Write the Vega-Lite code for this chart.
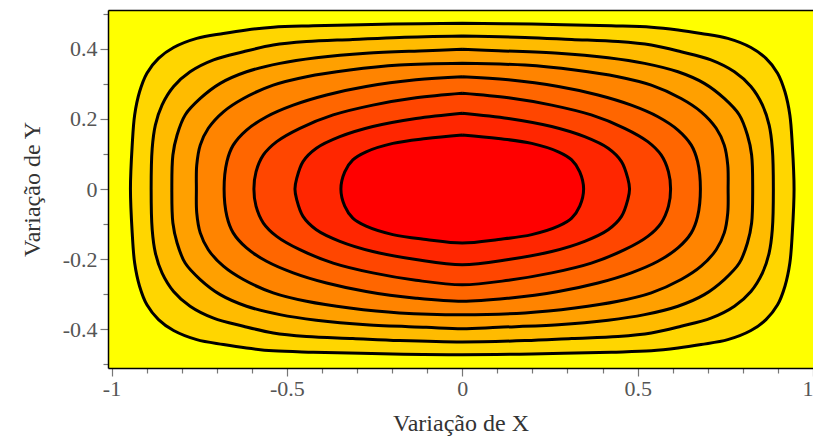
{
"$schema": "https://vega.github.io/schema/vega-lite/v6.json",
"width": 705, "height": 358,
"autosize": {"type": "none"},
"padding": {"left": 108, "top": 10, "right": 0, "bottom": 75},
"background": "white",
"config": {"view": {"fill": "#FFFF00", "stroke": null}, "axis": {"grid": false}},
"data": {"values": [
{"c":1,"i":0,"x":0,"y":0.472},{"c":1,"i":1,"x":-0.198,"y":0.47},{"c":1,"i":2,"x":-0.425,"y":0.465},{"c":1,"i":3,"x":-0.539,"y":0.461},{"c":1,"i":4,"x":-0.615,"y":0.453},{"c":1,"i":5,"x":-0.681,"y":0.443},{"c":1,"i":6,"x":-0.757,"y":0.429},{"c":1,"i":7,"x":-0.823,"y":0.403},{"c":1,"i":8,"x":-0.866,"y":0.372},{"c":1,"i":9,"x":-0.899,"y":0.33},{"c":1,"i":10,"x":-0.92,"y":0.277},{"c":1,"i":11,"x":-0.934,"y":0.211},{"c":1,"i":12,"x":-0.941,"y":0.125},{"c":1,"i":13,"x":-0.946,"y":0},
{"c":1,"i":14,"x":-0.941,"y":-0.125},{"c":1,"i":15,"x":-0.934,"y":-0.211},{"c":1,"i":16,"x":-0.92,"y":-0.277},{"c":1,"i":17,"x":-0.899,"y":-0.33},{"c":1,"i":18,"x":-0.866,"y":-0.372},{"c":1,"i":19,"x":-0.823,"y":-0.403},{"c":1,"i":20,"x":-0.757,"y":-0.429},{"c":1,"i":21,"x":-0.681,"y":-0.443},{"c":1,"i":22,"x":-0.615,"y":-0.453},{"c":1,"i":23,"x":-0.539,"y":-0.461},{"c":1,"i":24,"x":-0.425,"y":-0.465},{"c":1,"i":25,"x":-0.198,"y":-0.47},{"c":1,"i":26,"x":0,"y":-0.472},
{"c":1,"i":27,"x":0.198,"y":-0.47},{"c":1,"i":28,"x":0.425,"y":-0.465},{"c":1,"i":29,"x":0.539,"y":-0.461},{"c":1,"i":30,"x":0.615,"y":-0.453},{"c":1,"i":31,"x":0.681,"y":-0.443},{"c":1,"i":32,"x":0.757,"y":-0.429},{"c":1,"i":33,"x":0.823,"y":-0.403},{"c":1,"i":34,"x":0.866,"y":-0.372},{"c":1,"i":35,"x":0.899,"y":-0.33},{"c":1,"i":36,"x":0.92,"y":-0.277},{"c":1,"i":37,"x":0.934,"y":-0.211},{"c":1,"i":38,"x":0.941,"y":-0.125},{"c":1,"i":39,"x":0.946,"y":0},
{"c":1,"i":40,"x":0.941,"y":0.125},{"c":1,"i":41,"x":0.934,"y":0.211},{"c":1,"i":42,"x":0.92,"y":0.277},{"c":1,"i":43,"x":0.899,"y":0.33},{"c":1,"i":44,"x":0.866,"y":0.372},{"c":1,"i":45,"x":0.823,"y":0.403},{"c":1,"i":46,"x":0.757,"y":0.429},{"c":1,"i":47,"x":0.681,"y":0.443},{"c":1,"i":48,"x":0.615,"y":0.453},{"c":1,"i":49,"x":0.539,"y":0.461},{"c":1,"i":50,"x":0.425,"y":0.465},{"c":1,"i":51,"x":0.198,"y":0.47},{"c":1,"i":52,"x":0,"y":0.472},

{"c":2,"i":0,"x":0,"y":0.436},{"c":2,"i":1,"x":-0.179,"y":0.432},{"c":2,"i":2,"x":-0.312,"y":0.426},{"c":2,"i":3,"x":-0.444,"y":0.42},{"c":2,"i":4,"x":-0.539,"y":0.41},{"c":2,"i":5,"x":-0.624,"y":0.391},{"c":2,"i":6,"x":-0.709,"y":0.368},{"c":2,"i":7,"x":-0.776,"y":0.334},{"c":2,"i":8,"x":-0.823,"y":0.292},{"c":2,"i":9,"x":-0.856,"y":0.239},{"c":2,"i":10,"x":-0.875,"y":0.182},{"c":2,"i":11,"x":-0.884,"y":0.116},{"c":2,"i":12,"x":-0.887,"y":0},
{"c":2,"i":13,"x":-0.884,"y":-0.116},{"c":2,"i":14,"x":-0.875,"y":-0.182},{"c":2,"i":15,"x":-0.856,"y":-0.239},{"c":2,"i":16,"x":-0.823,"y":-0.292},{"c":2,"i":17,"x":-0.776,"y":-0.334},{"c":2,"i":18,"x":-0.709,"y":-0.368},{"c":2,"i":19,"x":-0.624,"y":-0.391},{"c":2,"i":20,"x":-0.539,"y":-0.41},{"c":2,"i":21,"x":-0.444,"y":-0.42},{"c":2,"i":22,"x":-0.312,"y":-0.426},{"c":2,"i":23,"x":-0.179,"y":-0.432},{"c":2,"i":24,"x":0,"y":-0.436},
{"c":2,"i":25,"x":0.179,"y":-0.432},{"c":2,"i":26,"x":0.312,"y":-0.426},{"c":2,"i":27,"x":0.444,"y":-0.42},{"c":2,"i":28,"x":0.539,"y":-0.41},{"c":2,"i":29,"x":0.624,"y":-0.391},{"c":2,"i":30,"x":0.709,"y":-0.368},{"c":2,"i":31,"x":0.776,"y":-0.334},{"c":2,"i":32,"x":0.823,"y":-0.292},{"c":2,"i":33,"x":0.856,"y":-0.239},{"c":2,"i":34,"x":0.875,"y":-0.182},{"c":2,"i":35,"x":0.884,"y":-0.116},{"c":2,"i":36,"x":0.887,"y":0},
{"c":2,"i":37,"x":0.884,"y":0.116},{"c":2,"i":38,"x":0.875,"y":0.182},{"c":2,"i":39,"x":0.856,"y":0.239},{"c":2,"i":40,"x":0.823,"y":0.292},{"c":2,"i":41,"x":0.776,"y":0.334},{"c":2,"i":42,"x":0.709,"y":0.368},{"c":2,"i":43,"x":0.624,"y":0.391},{"c":2,"i":44,"x":0.539,"y":0.41},{"c":2,"i":45,"x":0.444,"y":0.42},{"c":2,"i":46,"x":0.312,"y":0.426},{"c":2,"i":47,"x":0.179,"y":0.432},{"c":2,"i":48,"x":0,"y":0.436},

{"c":3,"i":0,"x":0,"y":0.398},{"c":3,"i":1,"x":-0.103,"y":0.394},{"c":3,"i":2,"x":-0.274,"y":0.387},{"c":3,"i":3,"x":-0.416,"y":0.374},{"c":3,"i":4,"x":-0.52,"y":0.358},{"c":3,"i":5,"x":-0.615,"y":0.334},{"c":3,"i":6,"x":-0.69,"y":0.301},{"c":3,"i":7,"x":-0.747,"y":0.258},{"c":3,"i":8,"x":-0.79,"y":0.211},{"c":3,"i":9,"x":-0.813,"y":0.154},{"c":3,"i":10,"x":-0.825,"y":0.097},{"c":3,"i":11,"x":-0.828,"y":0},
{"c":3,"i":12,"x":-0.825,"y":-0.097},{"c":3,"i":13,"x":-0.813,"y":-0.154},{"c":3,"i":14,"x":-0.79,"y":-0.211},{"c":3,"i":15,"x":-0.747,"y":-0.258},{"c":3,"i":16,"x":-0.69,"y":-0.301},{"c":3,"i":17,"x":-0.615,"y":-0.334},{"c":3,"i":18,"x":-0.52,"y":-0.358},{"c":3,"i":19,"x":-0.416,"y":-0.374},{"c":3,"i":20,"x":-0.274,"y":-0.387},{"c":3,"i":21,"x":-0.103,"y":-0.394},{"c":3,"i":22,"x":0,"y":-0.398},
{"c":3,"i":23,"x":0.103,"y":-0.394},{"c":3,"i":24,"x":0.274,"y":-0.387},{"c":3,"i":25,"x":0.416,"y":-0.374},{"c":3,"i":26,"x":0.52,"y":-0.358},{"c":3,"i":27,"x":0.615,"y":-0.334},{"c":3,"i":28,"x":0.69,"y":-0.301},{"c":3,"i":29,"x":0.747,"y":-0.258},{"c":3,"i":30,"x":0.79,"y":-0.211},{"c":3,"i":31,"x":0.813,"y":-0.154},{"c":3,"i":32,"x":0.825,"y":-0.097},{"c":3,"i":33,"x":0.828,"y":0},
{"c":3,"i":34,"x":0.825,"y":0.097},{"c":3,"i":35,"x":0.813,"y":0.154},{"c":3,"i":36,"x":0.79,"y":0.211},{"c":3,"i":37,"x":0.747,"y":0.258},{"c":3,"i":38,"x":0.69,"y":0.301},{"c":3,"i":39,"x":0.615,"y":0.334},{"c":3,"i":40,"x":0.52,"y":0.358},{"c":3,"i":41,"x":0.416,"y":0.374},{"c":3,"i":42,"x":0.274,"y":0.387},{"c":3,"i":43,"x":0.103,"y":0.394},{"c":3,"i":44,"x":0,"y":0.398},

{"c":4,"i":0,"x":0,"y":0.358},{"c":4,"i":1,"x":-0.179,"y":0.353},{"c":4,"i":2,"x":-0.321,"y":0.339},{"c":4,"i":3,"x":-0.444,"y":0.32},{"c":4,"i":4,"x":-0.539,"y":0.296},{"c":4,"i":5,"x":-0.624,"y":0.258},{"c":4,"i":6,"x":-0.681,"y":0.22},{"c":4,"i":7,"x":-0.724,"y":0.173},{"c":4,"i":8,"x":-0.747,"y":0.125},{"c":4,"i":9,"x":-0.757,"y":0.068},{"c":4,"i":10,"x":-0.758,"y":0},
{"c":4,"i":11,"x":-0.757,"y":-0.068},{"c":4,"i":12,"x":-0.747,"y":-0.125},{"c":4,"i":13,"x":-0.724,"y":-0.173},{"c":4,"i":14,"x":-0.681,"y":-0.22},{"c":4,"i":15,"x":-0.624,"y":-0.258},{"c":4,"i":16,"x":-0.539,"y":-0.296},{"c":4,"i":17,"x":-0.444,"y":-0.32},{"c":4,"i":18,"x":-0.321,"y":-0.339},{"c":4,"i":19,"x":-0.179,"y":-0.353},{"c":4,"i":20,"x":0,"y":-0.358},
{"c":4,"i":21,"x":0.179,"y":-0.353},{"c":4,"i":22,"x":0.321,"y":-0.339},{"c":4,"i":23,"x":0.444,"y":-0.32},{"c":4,"i":24,"x":0.539,"y":-0.296},{"c":4,"i":25,"x":0.624,"y":-0.258},{"c":4,"i":26,"x":0.681,"y":-0.22},{"c":4,"i":27,"x":0.724,"y":-0.173},{"c":4,"i":28,"x":0.747,"y":-0.125},{"c":4,"i":29,"x":0.757,"y":-0.068},{"c":4,"i":30,"x":0.758,"y":0},
{"c":4,"i":31,"x":0.757,"y":0.068},{"c":4,"i":32,"x":0.747,"y":0.125},{"c":4,"i":33,"x":0.724,"y":0.173},{"c":4,"i":34,"x":0.681,"y":0.22},{"c":4,"i":35,"x":0.624,"y":0.258},{"c":4,"i":36,"x":0.539,"y":0.296},{"c":4,"i":37,"x":0.444,"y":0.32},{"c":4,"i":38,"x":0.321,"y":0.339},{"c":4,"i":39,"x":0.179,"y":0.353},{"c":4,"i":40,"x":0,"y":0.358},

{"c":5,"i":0,"x":0,"y":0.32},{"c":5,"i":1,"x":-0.132,"y":0.311},{"c":5,"i":2,"x":-0.274,"y":0.292},{"c":5,"i":3,"x":-0.387,"y":0.268},{"c":5,"i":4,"x":-0.482,"y":0.239},{"c":5,"i":5,"x":-0.558,"y":0.206},{"c":5,"i":6,"x":-0.615,"y":0.168},{"c":5,"i":7,"x":-0.653,"y":0.125},{"c":5,"i":8,"x":-0.671,"y":0.078},{"c":5,"i":9,"x":-0.679,"y":0},
{"c":5,"i":10,"x":-0.671,"y":-0.078},{"c":5,"i":11,"x":-0.653,"y":-0.125},{"c":5,"i":12,"x":-0.615,"y":-0.168},{"c":5,"i":13,"x":-0.558,"y":-0.206},{"c":5,"i":14,"x":-0.482,"y":-0.239},{"c":5,"i":15,"x":-0.387,"y":-0.268},{"c":5,"i":16,"x":-0.274,"y":-0.292},{"c":5,"i":17,"x":-0.132,"y":-0.311},{"c":5,"i":18,"x":0,"y":-0.32},
{"c":5,"i":19,"x":0.132,"y":-0.311},{"c":5,"i":20,"x":0.274,"y":-0.292},{"c":5,"i":21,"x":0.387,"y":-0.268},{"c":5,"i":22,"x":0.482,"y":-0.239},{"c":5,"i":23,"x":0.558,"y":-0.206},{"c":5,"i":24,"x":0.615,"y":-0.168},{"c":5,"i":25,"x":0.653,"y":-0.125},{"c":5,"i":26,"x":0.671,"y":-0.078},{"c":5,"i":27,"x":0.679,"y":0},
{"c":5,"i":28,"x":0.671,"y":0.078},{"c":5,"i":29,"x":0.653,"y":0.125},{"c":5,"i":30,"x":0.615,"y":0.168},{"c":5,"i":31,"x":0.558,"y":0.206},{"c":5,"i":32,"x":0.482,"y":0.239},{"c":5,"i":33,"x":0.387,"y":0.268},{"c":5,"i":34,"x":0.274,"y":0.292},{"c":5,"i":35,"x":0.132,"y":0.311},{"c":5,"i":36,"x":0,"y":0.32},

{"c":6,"i":0,"x":0,"y":0.273},{"c":6,"i":1,"x":-0.132,"y":0.26},{"c":6,"i":2,"x":-0.255,"y":0.239},{"c":6,"i":3,"x":-0.368,"y":0.211},{"c":6,"i":4,"x":-0.463,"y":0.173},{"c":6,"i":5,"x":-0.529,"y":0.135},{"c":6,"i":6,"x":-0.567,"y":0.097},{"c":6,"i":7,"x":-0.588,"y":0.049},{"c":6,"i":8,"x":-0.594,"y":0},
{"c":6,"i":9,"x":-0.588,"y":-0.049},{"c":6,"i":10,"x":-0.567,"y":-0.097},{"c":6,"i":11,"x":-0.529,"y":-0.135},{"c":6,"i":12,"x":-0.463,"y":-0.173},{"c":6,"i":13,"x":-0.368,"y":-0.211},{"c":6,"i":14,"x":-0.255,"y":-0.239},{"c":6,"i":15,"x":-0.132,"y":-0.26},{"c":6,"i":16,"x":0,"y":-0.273},
{"c":6,"i":17,"x":0.132,"y":-0.26},{"c":6,"i":18,"x":0.255,"y":-0.239},{"c":6,"i":19,"x":0.368,"y":-0.211},{"c":6,"i":20,"x":0.463,"y":-0.173},{"c":6,"i":21,"x":0.529,"y":-0.135},{"c":6,"i":22,"x":0.567,"y":-0.097},{"c":6,"i":23,"x":0.588,"y":-0.049},{"c":6,"i":24,"x":0.594,"y":0},
{"c":6,"i":25,"x":0.588,"y":0.049},{"c":6,"i":26,"x":0.567,"y":0.097},{"c":6,"i":27,"x":0.529,"y":0.135},{"c":6,"i":28,"x":0.463,"y":0.173},{"c":6,"i":29,"x":0.368,"y":0.211},{"c":6,"i":30,"x":0.255,"y":0.239},{"c":6,"i":31,"x":0.132,"y":0.26},{"c":6,"i":32,"x":0,"y":0.273},

{"c":7,"i":0,"x":0,"y":0.216},{"c":7,"i":1,"x":-0.132,"y":0.201},{"c":7,"i":2,"x":-0.255,"y":0.178},{"c":7,"i":3,"x":-0.349,"y":0.149},{"c":7,"i":4,"x":-0.416,"y":0.116},{"c":7,"i":5,"x":-0.454,"y":0.078},{"c":7,"i":6,"x":-0.472,"y":0.03},{"c":7,"i":7,"x":-0.477,"y":0},
{"c":7,"i":8,"x":-0.472,"y":-0.03},{"c":7,"i":9,"x":-0.454,"y":-0.078},{"c":7,"i":10,"x":-0.416,"y":-0.116},{"c":7,"i":11,"x":-0.349,"y":-0.149},{"c":7,"i":12,"x":-0.255,"y":-0.178},{"c":7,"i":13,"x":-0.132,"y":-0.201},{"c":7,"i":14,"x":0,"y":-0.216},
{"c":7,"i":15,"x":0.132,"y":-0.201},{"c":7,"i":16,"x":0.255,"y":-0.178},{"c":7,"i":17,"x":0.349,"y":-0.149},{"c":7,"i":18,"x":0.416,"y":-0.116},{"c":7,"i":19,"x":0.454,"y":-0.078},{"c":7,"i":20,"x":0.472,"y":-0.03},{"c":7,"i":21,"x":0.477,"y":0},
{"c":7,"i":22,"x":0.472,"y":0.03},{"c":7,"i":23,"x":0.454,"y":0.078},{"c":7,"i":24,"x":0.416,"y":0.116},{"c":7,"i":25,"x":0.349,"y":0.149},{"c":7,"i":26,"x":0.255,"y":0.178},{"c":7,"i":27,"x":0.132,"y":0.201},{"c":7,"i":28,"x":0,"y":0.216},

{"c":8,"i":0,"x":0,"y":0.154},{"c":8,"i":1,"x":-0.103,"y":0.144},{"c":8,"i":2,"x":-0.198,"y":0.13},{"c":8,"i":3,"x":-0.274,"y":0.106},{"c":8,"i":4,"x":-0.312,"y":0.083},{"c":8,"i":5,"x":-0.335,"y":0.049},{"c":8,"i":6,"x":-0.346,"y":0},
{"c":8,"i":7,"x":-0.335,"y":-0.049},{"c":8,"i":8,"x":-0.312,"y":-0.083},{"c":8,"i":9,"x":-0.274,"y":-0.106},{"c":8,"i":10,"x":-0.198,"y":-0.13},{"c":8,"i":11,"x":-0.103,"y":-0.144},{"c":8,"i":12,"x":0,"y":-0.154},
{"c":8,"i":13,"x":0.103,"y":-0.144},{"c":8,"i":14,"x":0.198,"y":-0.13},{"c":8,"i":15,"x":0.274,"y":-0.106},{"c":8,"i":16,"x":0.312,"y":-0.083},{"c":8,"i":17,"x":0.335,"y":-0.049},{"c":8,"i":18,"x":0.346,"y":0},
{"c":8,"i":19,"x":0.335,"y":0.049},{"c":8,"i":20,"x":0.312,"y":0.083},{"c":8,"i":21,"x":0.274,"y":0.106},{"c":8,"i":22,"x":0.198,"y":0.13},{"c":8,"i":23,"x":0.103,"y":0.144},{"c":8,"i":24,"x":0,"y":0.154}
]},
"layer": [
{
"mark": {"type": "line", "stroke": "black", "strokeWidth": 3, "interpolate": "catmull-rom", "clip": true},
"encoding": {
"x": {"field": "x", "type": "quantitative", "scale": {"domain": [-1.01, 1.0], "nice": false, "zero": false},
"axis": {"values": [-1,-0.9,-0.8,-0.7,-0.6,-0.5,-0.4,-0.3,-0.2,-0.1,0,0.1,0.2,0.3,0.4,0.5,0.6,0.7,0.8,0.9,1],
"format": "~g",
"labelExpr": "abs(datum.value*2 - round(datum.value*2)) < 0.001 ? replace(datum.label, '\u2212', '-') : ''",
"tickSize": {"condition": {"test": "abs(datum.value*2 - round(datum.value*2)) < 0.001", "value": 8}, "value": 5},
"tickColor": "#777", "tickWidth": 1.2, "domainColor": "black", "domainWidth": 1.5,
"labelFont": "Liberation Serif", "labelFontSize": 22, "labelColor": "#555", "labelPadding": 2, "labelOverlap": false, "labelFlush": 1,
"title": "Variação de X", "titleFont": "Liberation Serif", "titleFontSize": 24, "titleFontWeight": "normal", "titleColor": "#333", "titlePadding": 12}},
"y": {"field": "y", "type": "quantitative", "scale": {"domain": [-0.51, 0.51], "nice": false, "zero": false},
"axis": {"values": [-0.5,-0.4,-0.3,-0.2,-0.1,0,0.1,0.2,0.3,0.4,0.5],
"format": "~g",
"labelExpr": "abs(datum.value*5 - round(datum.value*5)) < 0.001 ? replace(datum.label, '\u2212', '-') : ''",
"tickSize": {"condition": {"test": "abs(datum.value*5 - round(datum.value*5)) < 0.001", "value": 8}, "value": 5},
"tickColor": "#777", "tickWidth": 1.2, "domainColor": "black", "domainWidth": 1.5,
"labelFont": "Liberation Serif", "labelFontSize": 22, "labelColor": "#555", "labelPadding": 3, "labelOverlap": false,
"title": "Variação de Y", "titleFont": "Liberation Serif", "titleFontSize": 24, "titleFontWeight": "normal", "titleColor": "#333", "titlePadding": 18}},
"order": {"field": "i", "type": "quantitative"},
"detail": {"field": "c", "type": "nominal"},
"fill": {"field": "c", "type": "ordinal", "scale": {"domain": [1,2,3,4,5,6,7,8], "range": ["#FFD600","#FFBB00","#FFA000","#FF8400","#FF6600","#FF4600","#FF2600","#FF0000"]}, "legend": null}
}
},
{
"mark": {"type": "point", "opacity": 0},
"encoding": {
"x": {"field": "x", "type": "quantitative", "axis": {"orient": "top", "ticks": false, "labels": false, "title": null, "domainColor": "black", "domainWidth": 1.5}}
}
}
],
"resolve": {"axis": {"x": "independent"}}
}
